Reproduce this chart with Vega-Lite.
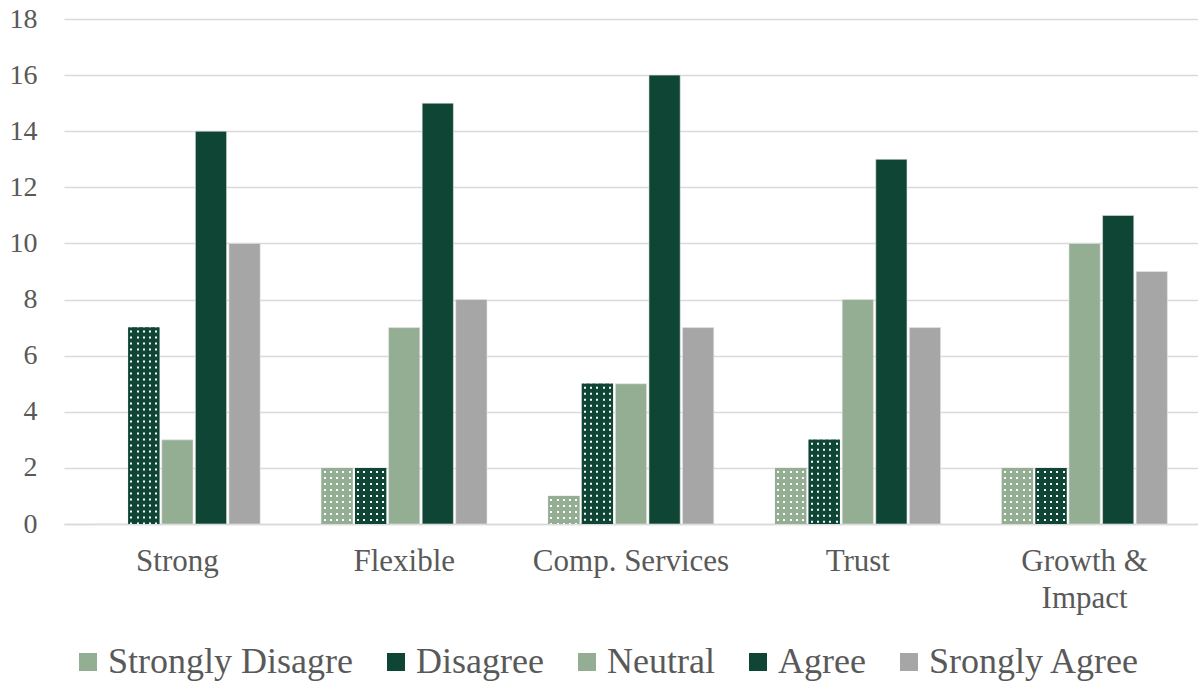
{
  "$schema": "https://vega.github.io/schema/vega-lite/v6.json",
  "width": 1134,
  "height": 505,
  "autosize": {"type": "none"},
  "padding": {"left": 64, "top": 19, "right": 0, "bottom": 159},
  "background": "white",
  "config": {
    "view": {"stroke": null},
    "font": "Liberation Serif"
  },
  "data": {
    "values": [
      {"cat": "Strong", "resp": "Strongly Disagre", "value": 0},
      {"cat": "Strong", "resp": "Disagree", "value": 7},
      {"cat": "Strong", "resp": "Neutral", "value": 3},
      {"cat": "Strong", "resp": "Agree", "value": 14},
      {"cat": "Strong", "resp": "Srongly Agree", "value": 10},
      {"cat": "Flexible", "resp": "Strongly Disagre", "value": 2},
      {"cat": "Flexible", "resp": "Disagree", "value": 2},
      {"cat": "Flexible", "resp": "Neutral", "value": 7},
      {"cat": "Flexible", "resp": "Agree", "value": 15},
      {"cat": "Flexible", "resp": "Srongly Agree", "value": 8},
      {"cat": "Comp. Services", "resp": "Strongly Disagre", "value": 1},
      {"cat": "Comp. Services", "resp": "Disagree", "value": 5},
      {"cat": "Comp. Services", "resp": "Neutral", "value": 5},
      {"cat": "Comp. Services", "resp": "Agree", "value": 16},
      {"cat": "Comp. Services", "resp": "Srongly Agree", "value": 7},
      {"cat": "Trust", "resp": "Strongly Disagre", "value": 2},
      {"cat": "Trust", "resp": "Disagree", "value": 3},
      {"cat": "Trust", "resp": "Neutral", "value": 8},
      {"cat": "Trust", "resp": "Agree", "value": 13},
      {"cat": "Trust", "resp": "Srongly Agree", "value": 7},
      {"cat": "Growth & Impact", "resp": "Strongly Disagre", "value": 2},
      {"cat": "Growth & Impact", "resp": "Disagree", "value": 2},
      {"cat": "Growth & Impact", "resp": "Neutral", "value": 10},
      {"cat": "Growth & Impact", "resp": "Agree", "value": 11},
      {"cat": "Growth & Impact", "resp": "Srongly Agree", "value": 9}
    ]
  },
  "encoding": {
    "x": {
      "field": "cat",
      "type": "nominal",
      "sort": ["Strong", "Flexible", "Comp. Services", "Trust", "Growth & Impact"],
      "scale": {"paddingInner": 0.27, "paddingOuter": 0.135},
      "axis": {
        "title": null,
        "labelAngle": 0,
        "labelFont": "Liberation Serif",
        "labelFontSize": 31,
        "labelColor": "#595959",
        "labelPadding": 22,
        "labelLineHeight": 37,
        "labelLimit": 1000,
        "labelExpr": "datum.label == 'Growth & Impact' ? ['Growth &', 'Impact'] : datum.label",
        "ticks": false,
        "domainColor": "#d9d9d9",
        "domainWidth": 1.5,
        "grid": false
      }
    },
    "y": {
      "field": "value",
      "type": "quantitative",
      "scale": {"domain": [0, 18], "nice": false},
      "axis": {
        "title": null,
        "values": [0, 2, 4, 6, 8, 10, 12, 14, 16, 18],
        "labelFont": "Liberation Serif",
        "labelFontSize": 28,
        "labelColor": "#595959",
        "labelPadding": 27,
        "ticks": false,
        "domain": false,
        "grid": true,
        "gridColor": "#d9d9d9",
        "gridWidth": 1.5
      }
    },
    "xOffset": {
      "field": "resp",
      "type": "nominal",
      "sort": ["Strongly Disagre", "Disagree", "Neutral", "Agree", "Srongly Agree"],
      "scale": {"paddingInner": 0.07}
    }
  },
  "layer": [
    {
      "mark": {"type": "bar", "stroke": "#e6e6e6", "strokeWidth": 0.6},
      "encoding": {
        "color": {
          "field": "resp",
          "type": "nominal",
          "sort": ["Strongly Disagre", "Disagree", "Neutral", "Agree", "Srongly Agree"],
          "scale": {
            "domain": ["Strongly Disagre", "Disagree", "Neutral", "Agree", "Srongly Agree"],
            "range": ["#94ae93", "#0f4534", "#94ae93", "#0f4534", "#a6a6a6"]
          },
          "legend": {
            "title": null,
            "orient": "none",
            "direction": "horizontal",
            "legendX": 6,
            "legendY": 625,
            "symbolType": "square",
            "symbolSize": 324,
            "symbolStrokeWidth": 0,
            "labelFont": "Liberation Serif",
            "labelFontSize": 36,
            "labelColor": "#595959",
            "labelOffset": 2,
            "labelLimit": 1000,
            "columnPadding": 25,
            "labelExpr": "datum.label == 'Srongly Agree' ? '\u00a0Srongly Agree' : datum.label"
          }
        }
      }
    },
    {
      "transform": [{"filter": "datum.resp == 'Strongly Disagre' && datum.value > 0"}],
      "mark": {
        "type": "bar",
        "fill": {
          "gradient": "linear", "x1": 0, "x2": 1, "y1": 0, "y2": 0,
          "stops": [
            {"offset": 0, "color": "#94ae93"}, {"offset": 0.067, "color": "#94ae93"},
            {"offset": 0.067, "color": "#ffffff"}, {"offset": 0.131, "color": "#ffffff"},
            {"offset": 0.131, "color": "#94ae93"}, {"offset": 0.268, "color": "#94ae93"},
            {"offset": 0.268, "color": "#ffffff"}, {"offset": 0.332, "color": "#ffffff"},
            {"offset": 0.332, "color": "#94ae93"}, {"offset": 0.468, "color": "#94ae93"},
            {"offset": 0.468, "color": "#ffffff"}, {"offset": 0.532, "color": "#ffffff"},
            {"offset": 0.532, "color": "#94ae93"}, {"offset": 0.668, "color": "#94ae93"},
            {"offset": 0.668, "color": "#ffffff"}, {"offset": 0.732, "color": "#ffffff"},
            {"offset": 0.732, "color": "#94ae93"}, {"offset": 0.869, "color": "#94ae93"},
            {"offset": 0.869, "color": "#ffffff"}, {"offset": 0.933, "color": "#ffffff"},
            {"offset": 0.933, "color": "#94ae93"}, {"offset": 1, "color": "#94ae93"}
          ]
        }
      },
      "encoding": {}
    },
    {
      "transform": [{"filter": "datum.resp == 'Disagree' && datum.value > 0"}],
      "mark": {
        "type": "bar",
        "fill": {
          "gradient": "linear", "x1": 0, "x2": 1, "y1": 0, "y2": 0,
          "stops": [
            {"offset": 0, "color": "#0f4534"}, {"offset": 0.067, "color": "#0f4534"},
            {"offset": 0.067, "color": "#ffffff"}, {"offset": 0.131, "color": "#ffffff"},
            {"offset": 0.131, "color": "#0f4534"}, {"offset": 0.268, "color": "#0f4534"},
            {"offset": 0.268, "color": "#ffffff"}, {"offset": 0.332, "color": "#ffffff"},
            {"offset": 0.332, "color": "#0f4534"}, {"offset": 0.468, "color": "#0f4534"},
            {"offset": 0.468, "color": "#ffffff"}, {"offset": 0.532, "color": "#ffffff"},
            {"offset": 0.532, "color": "#0f4534"}, {"offset": 0.668, "color": "#0f4534"},
            {"offset": 0.668, "color": "#ffffff"}, {"offset": 0.732, "color": "#ffffff"},
            {"offset": 0.732, "color": "#0f4534"}, {"offset": 0.869, "color": "#0f4534"},
            {"offset": 0.869, "color": "#ffffff"}, {"offset": 0.933, "color": "#ffffff"},
            {"offset": 0.933, "color": "#0f4534"}, {"offset": 1, "color": "#0f4534"}
          ]
        }
      },
      "encoding": {}
    },
    {
      "transform": [{"filter": "datum.resp == 'Strongly Disagre' && datum.value > 0"}],
      "mark": {"type": "rule", "color": "#94ae93", "strokeWidth": 30, "strokeDash": [4, 2], "strokeDashOffset": 1, "strokeCap": "butt"},
      "encoding": {"y2": {"datum": 0}}
    },
    {
      "transform": [{"filter": "datum.resp == 'Disagree' && datum.value > 0"}],
      "mark": {"type": "rule", "color": "#0f4534", "strokeWidth": 30, "strokeDash": [4, 2], "strokeDashOffset": 1, "strokeCap": "butt"},
      "encoding": {"y2": {"datum": 0}}
    }
  ]
}
